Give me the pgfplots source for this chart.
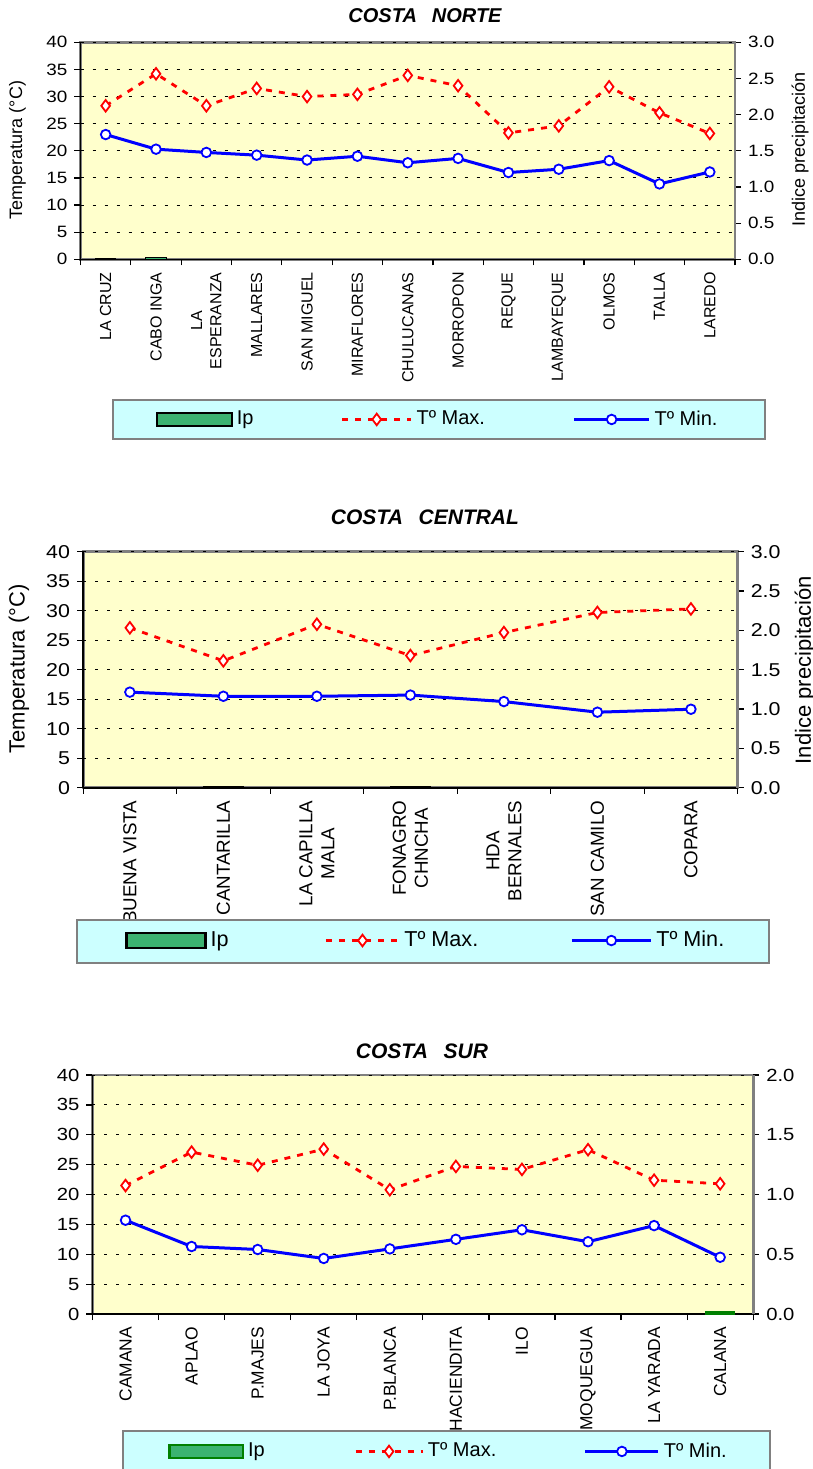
\documentclass[border=0pt]{standalone}
\usepackage{fontspec}
\setmainfont{Liberation Sans}
\newfontfamily\tickfont[FakeStretch=1.15]{Liberation Sans}
\usepackage{pgfplots}
\pgfplotsset{compat=1.18}
\definecolor{bgyellow}{RGB}{255,255,204}
\definecolor{legcyan}{RGB}{204,255,255}
\definecolor{bargreen}{RGB}{60,179,113}
\definecolor{darkgreen}{RGB}{0,128,0}
\definecolor{bordergray}{RGB}{128,128,128}
\definecolor{tred}{RGB}{255,0,0}
\definecolor{tblue}{RGB}{0,0,255}

\pgfplotsset{
  tmax/.style={color=tred, line width=1.4pt, dash pattern=on 3pt off 3.5pt,
     mark=diamond*, mark size=2.9pt, mark options={solid, fill=white, draw=tred, line width=0.9pt}},
  tmin/.style={color=tblue, line width=1.5pt, solid, mark=*, mark size=2.4pt,
     mark options={fill=white, draw=tblue, line width=0.9pt}},
  linelegend/.style={legend image code/.code={\draw[mark repeat=2,mark phase=2,##1] plot coordinates {(0pt,0pt) (#1/2,0pt) (#1,0pt)};}},
  boxlegend/.style 2 args={legend image code/.code={\draw[##1] (0pt,-#2/2) rectangle (#1,#2/2);}},
  leftax/.style={
    scale only axis, anchor=south west,
    xmin=0.5,
    ymin=0, ymax=40, ytick={0,5,...,40},
    axis x line*=bottom, axis y line*=left,
    axis line style={black, line width=0.8pt, -},
    x tick label as interval,
    tick align=outside, major tick length=3pt,
    tick style={black, line width=0.6pt},
    ymajorgrids, major grid style={black, line width=0.45pt, dash pattern=on 1.5pt off 4.5pt},
    axis background/.style={fill=bgyellow, draw=bordergray, line width=1.4pt},
    /pgf/number format/assume math mode=true,
    xticklabel style={rotate=90, anchor=east, align=center},
    clip=false,
  },
  rightax/.style={
    scale only axis, anchor=south west,
    xmin=0.5,
    axis y line*=right, axis x line=none,
    ymin=0,
    y axis line style={bordergray, line width=1.4pt, -},
    tick align=outside, major tick length=3pt, tick style={black, line width=0.6pt},
    /pgf/number format/assume math mode=true,
    yticklabel style={/pgf/number format/fixed, /pgf/number format/fixed zerofill, /pgf/number format/precision=1},
    legend style={draw=none, fill=none, legend columns=3, anchor=west, inner sep=0pt},
    legend cell align=left,
    clip=false,
  },
}

\begin{document}
\begin{tikzpicture}
\path[use as bounding box] (0pt,0pt) rectangle (406.5pt,-734.5pt);

%================ COSTA NORTE ================
\begin{axis}[leftax, at={(40.25pt,-129.65pt)}, width=327.25pt, height=108.5pt,
  xmax=13.5, xtick={0.5,1.5,...,13.5},
  xticklabels={LA CRUZ, CABO INGA, {LA\\ESPERANZA}, MALLARES, SAN MIGUEL, MIRAFLORES, CHULUCANAS, MORROPON, REQUE, LAMBAYEQUE, OLMOS, TALLA, LAREDO},
  yticklabel style={font=\tickfont\fontsize{8.2}{9.6}\selectfont},
  xticklabel style={font=\fontsize{8}{9.6}\selectfont}]
\addplot[tmax] coordinates {(1,28.3) (2,34.2) (3,28.3) (4,31.5) (5,30.0) (6,30.4) (7,33.9) (8,32.0) (9,23.3) (10,24.6) (11,31.8) (12,27.0) (13,23.2)};
\addplot[tmin] coordinates {(1,23.0) (2,20.3) (3,19.7) (4,19.2) (5,18.3) (6,19.0) (7,17.8) (8,18.6) (9,16.0) (10,16.6) (11,18.2) (12,13.9) (13,16.1)};
\end{axis}
\filldraw[fill=legcyan, draw=bordergray, line width=0.8pt] (56.5pt,-200pt) rectangle (382.5pt,-219.5pt);
\begin{axis}[rightax, at={(40.25pt,-129.65pt)}, width=327.25pt, height=108.5pt,
  xmax=13.5, ymax=3, ytick={0,0.5,...,3},
  yticklabel style={font=\tickfont\fontsize{8.2}{9.6}\selectfont},
  legend style={at={(0.1154,-0.738)}, font=\fontsize{10}{12}\selectfont}]
\addplot[ybar, bar width=10.25pt, fill=bargreen, draw=black, line width=0.5pt, forget plot] coordinates {(1,0.005) (2,0.03)};
\addlegendimage{boxlegend={37.5pt}{6.5pt}, fill=bargreen, draw=black, line width=0.7pt}
\addlegendentry{\makebox[50pt][l]{Ip}}
\addlegendimage{tmax, linelegend=34.5pt}
\addlegendentry{\makebox[76pt][l]{Tº Max.}}
\addlegendimage{tmin, linelegend=37.5pt}
\addlegendentry{Tº Min.}
\end{axis}
\node[font=\fontsize{10}{12}\selectfont\bfseries\itshape] at (212.5pt,-7.75pt) {COSTA\hspace{0.75em}NORTE};
\node[rotate=90, font=\fontsize{9}{11}\selectfont] at (8.75pt,-75pt) {Temperatura (°C)};
\node[rotate=90, font=\fontsize{9}{11}\selectfont] at (400pt,-74.75pt) {Indice precipitación};

%================ COSTA CENTRAL ================
\begin{axis}[leftax, at={(41.55pt,-393.85pt)}, width=327.3pt, height=118pt,
  xmax=7.5, xtick={0.5,1.5,...,7.5},
  xticklabels={BUENA VISTA, CANTARILLA, {LA CAPILLA\\MALA}, {FONAGRO\\CHNCHA}, {HDA\\BERNALES}, SAN CAMILO, COPARA},
  yticklabel style={font=\tickfont\fontsize{9.3}{11}\selectfont},
  xticklabel style={font=\fontsize{9.4}{11}\selectfont}]
\addplot[tmax] coordinates {(1,27.1) (2,21.5) (3,27.7) (4,22.4) (5,26.3) (6,29.7) (7,30.3)};
\addplot[tmin] coordinates {(1,16.2) (2,15.5) (3,15.5) (4,15.7) (5,14.6) (6,12.8) (7,13.3)};
\end{axis}
\filldraw[fill=legcyan, draw=bordergray, line width=0.8pt] (38.5pt,-460pt) rectangle (384.5pt,-481.5pt);
\begin{axis}[rightax, at={(41.55pt,-393.85pt)}, width=327.3pt, height=118pt,
  xmax=7.5, ymax=3, ytick={0,0.5,...,3},
  yticklabel style={font=\tickfont\fontsize{9.3}{11}\selectfont},
  legend style={at={(0.064,-0.6475)}, font=\fontsize{10.8}{13}\selectfont}]
\addplot[ybar, bar width=20pt, fill=black, draw=black, line width=0.6pt, forget plot] coordinates {(2,0.012) (4,0.012)};
\addlegendimage{boxlegend={39.5pt}{7.5pt}, fill=bargreen, draw=black, line width=1.1pt}
\addlegendentry{\makebox[55pt][l]{Ip}}
\addlegendimage{tmax, linelegend=36.5pt}
\addlegendentry{\makebox[81pt][l]{Tº Max.}}
\addlegendimage{tmin, linelegend=39.5pt}
\addlegendentry{Tº Min.}
\end{axis}
\node[font=\fontsize{10.5}{12}\selectfont\bfseries\itshape] at (212.5pt,-258.75pt) {COSTA\hspace{0.75em}CENTRAL};
\node[rotate=90, font=\fontsize{11}{13}\selectfont] at (9.5pt,-334.5pt) {Temperatura (°C)};
\node[rotate=90, font=\fontsize{11}{13}\selectfont] at (402.5pt,-335pt) {Indice precipitación};

%================ COSTA SUR ================
\begin{axis}[leftax, at={(46.25pt,-657pt)}, width=330.35pt, height=119.5pt,
  xmax=10.5, xtick={0.5,1.5,...,10.5},
  xticklabels={CAMANA, APLAO, P.MAJES, LA JOYA, P.BLANCA, HACIENDITA, ILO, MOQUEGUA, LA YARADA, CALANA},
  yticklabel style={font=\tickfont\fontsize{8.8}{10}\selectfont},
  xticklabel style={font=\fontsize{8.7}{10}\selectfont}]
\addplot[tmax] coordinates {(1,21.5) (2,27.1) (3,24.9) (4,27.6) (5,20.8) (6,24.7) (7,24.2) (8,27.5) (9,22.4) (10,21.8)};
\addplot[tmin] coordinates {(1,15.7) (2,11.3) (3,10.8) (4,9.3) (5,10.9) (6,12.5) (7,14.1) (8,12.1) (9,14.8) (10,9.5)};
\end{axis}
\filldraw[fill=legcyan, draw=bordergray, line width=0.8pt] (61.5pt,-715.5pt) rectangle (385pt,-740pt);
\begin{axis}[rightax, at={(46.25pt,-657pt)}, width=330.35pt, height=119.5pt,
  xmax=10.5, ymax=2, ytick={0,0.5,...,2},
  yticklabel style={font=\tickfont\fontsize{8.8}{10}\selectfont},
  legend style={at={(0.1143,-0.575)}, font=\fontsize{10}{12}\selectfont}]
\addplot[ybar, bar width=14.25pt, fill=darkgreen, draw=darkgreen, line width=0.5pt, forget plot] coordinates {(10,0.02)};
\addlegendimage{boxlegend={36.75pt}{6.5pt}, fill=bargreen, draw=darkgreen, line width=1.1pt}
\addlegendentry{\makebox[51pt][l]{Ip}}
\addlegendimage{tmax, linelegend=33.5pt}
\addlegendentry{\makebox[76pt][l]{Tº Max.}}
\addlegendimage{tmin, linelegend=36.5pt}
\addlegendentry{Tº Min.}
\end{axis}
\node[font=\fontsize{10.5}{12}\selectfont\bfseries\itshape] at (211pt,-525.5pt) {COSTA\hspace{0.75em}SUR};
\end{tikzpicture}
\end{document}
